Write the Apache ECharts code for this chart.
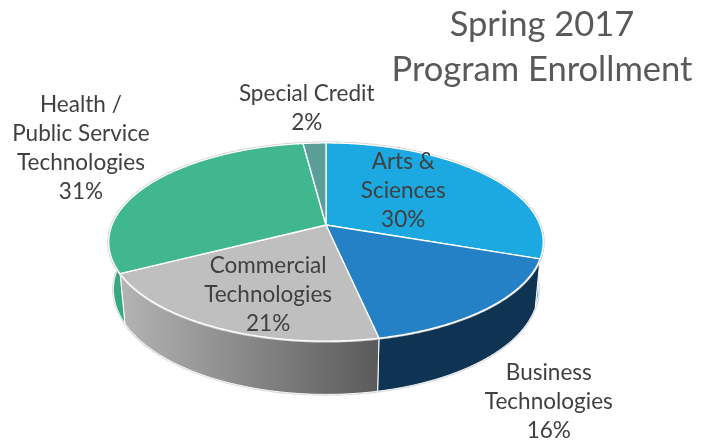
<!DOCTYPE html>
<html><head><meta charset="utf-8">
<script src="https://cdn.jsdelivr.net/npm/echarts@6/dist/echarts.min.js"></script>
<style>html,body{margin:0;padding:0;background:#fff}#c{width:716px;height:440px}</style>
</head><body><div id="c"></div>
<script>
// ---- data ----
const categories = ['Arts &\nSciences', 'Business\nTechnologies', 'Commercial\nTechnologies', 'Health /\nPublic Service\nTechnologies', 'Special Credit'];
const values = [30.4, 16.3, 20.6, 30.7, 2.0];
const titleLines = ['Spring 2017', 'Program Enrollment'];

// ---- style / layout ----
const topColors = ['#1CA9E1', '#2481C6', '#BFBFBF', '#40B78F', '#5B9E97'];
const sideFills = [
  '#1890C0',
  '#0F3352',
  {type:'linear', x:0, y:0, x2:1, y2:0, colorStops:[{offset:0, color:'#B4B4B4'}, {offset:1, color:'#5A5A5A'}]},
  '#38A882',
  '#4E8B85'
];
// [radius, level(0 top, 1 bottom), dx, dy]
const labelLayout = [[0.5,0,-6,-8],[1.4,1,-12,-1],[0.65,0,8,7],[1.4,0,-6,-21],[1.3,0,-5,-15]];
const CX = 326, CY = 225, K = 214, ELEV = 26.7*Math.PI/180, DIST = 5.2, DEPTH = 0.25;
const FONT = 'Lato';

function fitSize(text, w) {
  const c = document.createElement('canvas').getContext('2d');
  c.font = '100px ' + FONT;
  return 100 * w / c.measureText(text).width;
}
const labelSize = fitSize('Technologies', 128);
const titleSize = fitSize('Program Enrollment', 301);

const total = values.reduce((a,b)=>a+b,0);
const starts = [], ends = [];
let acc = 0;
values.forEach(v => { starts.push(acc/total*2*Math.PI); acc += v; ends.push(acc/total*2*Math.PI); });

function proj(a, r, y) {
  const X = r*Math.sin(a), Z = r*Math.cos(a);
  const yc = y*Math.cos(ELEV) + Z*Math.sin(ELEV);
  const zc = -y*Math.sin(ELEV) + Z*Math.cos(ELEV);
  const s = DIST/(DIST+zc);
  return [CX + K*X*s, CY - K*yc*s];
}
function arc(a0, a1, r, y) {
  const n = Math.max(2, Math.ceil(Math.abs(a1-a0)/(Math.PI/360)));
  const pts = [];
  for (let k=0;k<=n;k++) pts.push(proj(a0+(a1-a0)*k/n, r, y));
  return pts;
}

function renderItem(params, api) {
  const i = params.dataIndex;
  const a0 = starts[i], a1 = ends[i];
  const children = [];
  const side = arc(a0,a1,1,0).concat(arc(a1,a0,1,-DEPTH));
  children.push({type:'polygon', shape:{points:side}, style:{fill:sideFills[i], stroke:'#ffffff', lineWidth:1}, z2:1});
  const top = [proj(0,0,0)].concat(arc(a0,a1,1,0));
  children.push({type:'polygon', shape:{points:top}, style:{fill:topColors[i], stroke:'#ffffff', lineWidth:1.3}, z2:6});
  if (i === 0) {
    children.push({type:'polyline', shape:{points:arc(0,2*Math.PI,1,0)}, style:{fill:null, stroke:'#D4D4D4', lineWidth:3}, z2:5});
    children.push({type:'polyline', shape:{points:arc(Math.PI*0.5,Math.PI*1.5,1,-DEPTH)}, style:{fill:null, stroke:'#D4D4D4', lineWidth:2.5}, z2:0});
  }
  const L = labelLayout[i];
  const mid = (a0+a1)/2;
  const p = proj(mid, L[0], L[1] ? -DEPTH : 0);
  const pct = Math.round(api.value(0)/total*100) + '%';
  children.push({type:'text', x:p[0]+L[2], y:p[1]+L[3], style:{text: categories[i] + '\n' + pct, fill:'#404040', fontSize:labelSize, fontFamily:FONT, align:'center', verticalAlign:'middle', lineHeight:29}, z2:10});
  return {type:'group', children};
}

const chart = echarts.init(document.getElementById('c'), null, {renderer:'canvas'});
chart.setOption({
  animation:false,
  graphic:[{type:'text', x:542, y:47, style:{text:titleLines.join('\n'), fill:'#595959', fontSize:titleSize, fontFamily:FONT, align:'center', verticalAlign:'middle', lineHeight:45}}],
  series:[{type:'custom', coordinateSystem:'none', silent:true,
    data: values.map((v,i)=>({value:v, name:categories[i]})),
    renderItem}]
});
</script></body></html>
